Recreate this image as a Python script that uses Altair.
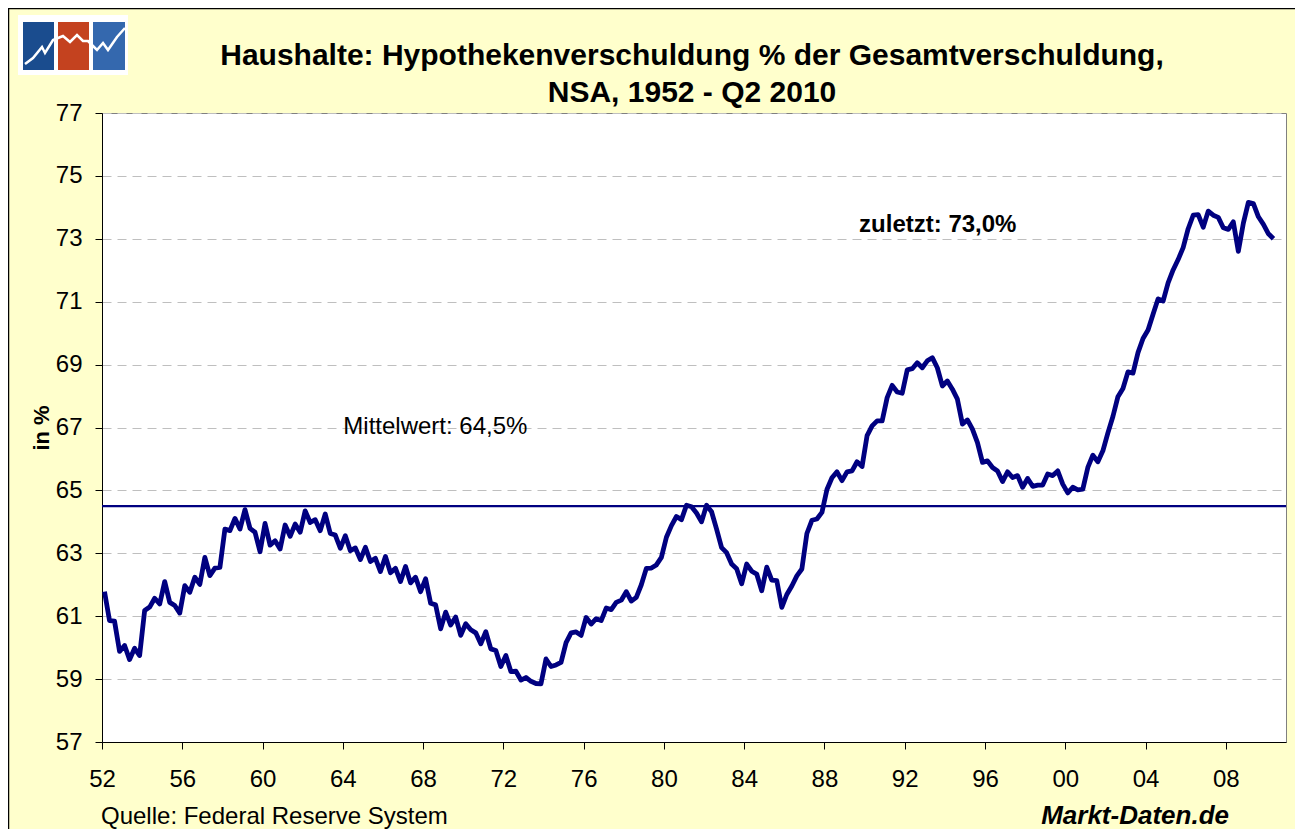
import altair as alt
import pandas as pd

FONT = "Liberation Sans"

# Hypothekenverschuldung in % der Gesamtverschuldung, quarterly 1952Q1 - 2010Q2
share_1952_1961 = [61.78, 60.86, 60.84, 59.88, 60.07, 59.62, 59.98, 59.75, 61.18, 61.29,
                   61.57, 61.39, 62.10, 61.44, 61.34, 61.10, 61.97, 61.76, 62.24, 62.01,
                   62.87, 62.29, 62.53, 62.55, 63.77, 63.72, 64.11, 63.77, 64.39, 63.79,
                   63.67, 63.05, 63.95, 63.26, 63.40, 63.14, 63.90, 63.54, 63.93, 63.67]
share_1962_1971 = [64.35, 63.98, 64.07, 63.72, 64.25, 63.63, 63.58, 63.16, 63.56, 63.08,
                   63.17, 62.80, 63.19, 62.74, 62.84, 62.42, 62.90, 62.38, 62.52, 62.10,
                   62.58, 62.06, 62.24, 61.78, 62.19, 61.41, 61.36, 60.60, 61.13, 60.72,
                   60.97, 60.39, 60.76, 60.57, 60.47, 60.12, 60.51, 59.96, 59.91, 59.40]
share_1972_1981 = [59.75, 59.24, 59.25, 58.97, 59.05, 58.93, 58.86, 58.85, 59.64, 59.40,
                   59.45, 59.53, 60.16, 60.47, 60.50, 60.39, 60.96, 60.75, 60.92, 60.86,
                   61.26, 61.21, 61.44, 61.51, 61.78, 61.48, 61.60, 62.00, 62.52, 62.53,
                   62.63, 62.87, 63.51, 63.88, 64.17, 64.07, 64.53, 64.48, 64.28, 64.00]
share_1982_1991 = [64.53, 64.32, 63.77, 63.18, 63.02, 62.66, 62.51, 62.03, 62.66, 62.43,
                   62.34, 61.81, 62.56, 62.15, 62.13, 61.28, 61.69, 61.96, 62.28, 62.50,
                   63.63, 64.05, 64.09, 64.30, 65.03, 65.40, 65.59, 65.31, 65.59, 65.62,
                   65.91, 65.76, 66.74, 67.05, 67.21, 67.21, 67.95, 68.34, 68.13, 68.09]
share_1992_2001 = [68.83, 68.87, 69.06, 68.90, 69.12, 69.22, 68.90, 68.32, 68.48, 68.22,
                   67.90, 67.11, 67.24, 66.95, 66.52, 65.89, 65.94, 65.73, 65.62, 65.28,
                   65.59, 65.41, 65.47, 65.10, 65.38, 65.13, 65.17, 65.17, 65.52, 65.47,
                   65.62, 65.20, 64.92, 65.10, 65.02, 65.04, 65.73, 66.12, 65.91, 66.26]
share_2002_2010 = [66.83, 67.35, 67.98, 68.24, 68.77, 68.73, 69.38, 69.83, 70.10, 70.60,
                   71.09, 71.02, 71.60, 72.01, 72.34, 72.72, 73.32, 73.75, 73.77, 73.37,
                   73.88, 73.75, 73.68, 73.35, 73.30, 73.54, 72.60, 73.50, 74.16, 74.12,
                   73.70, 73.46, 73.16, 73.00]

share = (share_1952_1961 + share_1962_1971 + share_1972_1981 +
         share_1982_1991 + share_1992_2001 + share_2002_2010)
quarter_time = [1952 + i / 4 for i in range(len(share))]

MEAN = 64.5
y_ticks = list(range(57, 78, 2))
x_tick_years = [1952, 1956, 1960, 1964, 1968, 1972, 1976, 1980, 1984, 1988,
                1992, 1996, 2000, 2004, 2008]

ann_bold_text = ["zuletzt: 73,0%"]
ann_bold_t = [1989.6]
ann_bold_v = [73.45]
ann_text = ["Mittelwert: 64,5%"]
ann_t = [1963.9]
ann_v = [67.03]

title_lines = ["Haushalte: Hypothekenverschuldung % der Gesamtverschuldung,",
               "NSA, 1952 - Q2 2010"]
source_text = "Quelle: Federal Reserve System"
brand_text = "Markt-Daten.de"

# decoration: logo (pixel geometry relative to plot origin)
logo_squares = pd.DataFrame({
    "x": [-84, -79, -44, -9], "x2": [26, -48, -13, 23],
    "y": [-98, -91, -91, -91], "y2": [-38, -43, -43, -43],
    "c": ["#FFFFFF", "#1A4C8E", "#C4421F", "#3468AE"],
})
logo_line = pd.DataFrame({
    "px": [-77, -69, -60, -57, -49, -44, -39, -32, -25, -19, -14, -9, -5, 1, 6, 15, 23],
    "py": [-49, -55, -66, -60, -73, -75, -77, -71, -78, -72, -72, -67, -63, -70, -63, -76, -85],
    "o": list(range(17)),
})

df = pd.DataFrame({"t": quarter_time, "v": share})
x_dom = [x_tick_years[0] - 0.125, x_tick_years[0] - 0.125 + 59]
x_scale = alt.Scale(domain=x_dom, nice=False, zero=False)
y_scale = alt.Scale(domain=[57, 77], nice=False, zero=False)

x_axis = alt.Axis(
    values=[y - 0.125 for y in x_tick_years],
    labelExpr="substring(toString(round(datum.value)), 2, 4)",
    grid=False, tickSize=7, tickColor="black", domainColor="black",
    labelFontSize=24, labelFont=FONT, labelColor="black", labelPadding=18,
    labelFlush=False, labelOverlap=False, title=None,
)
y_axis = alt.Axis(
    values=y_ticks, format="d", grid=True, gridDash=[9, 6], gridColor="#BFBFBF",
    tickSize=7, tickColor="black", domainColor="black",
    labelFontSize=24, labelFont=FONT, labelColor="black", labelPadding=13,
    title="in %", titleFontSize=22, titleFont=FONT, titleFontWeight="bold",
    titleColor="black", titlePadding=2,
)

line = alt.Chart(df).mark_line(color="#000080", strokeWidth=4.8, strokeJoin="round").encode(
    x=alt.X("t:Q", scale=x_scale, axis=x_axis),
    y=alt.Y("v:Q", scale=y_scale, axis=y_axis),
)

mean_rule = alt.Chart(pd.DataFrame({"m": [MEAN]})).mark_rule(
    color="#000080", strokeWidth=2.2).encode(y=alt.Y("m:Q", scale=y_scale))

ann_b = alt.Chart(pd.DataFrame({"t": ann_bold_t, "v": ann_bold_v, "s": ann_bold_text})).mark_text(
    align="left", baseline="middle", font=FONT, fontSize=24, fontWeight="bold", color="black"
).encode(x="t:Q", y="v:Q", text="s:N")

ann_n = alt.Chart(pd.DataFrame({"t": ann_t, "v": ann_v, "s": ann_text})).mark_text(
    align="left", baseline="middle", font=FONT, fontSize=24, color="black"
).encode(x="t:Q", y="v:Q", text="s:N")

title1 = alt.Chart(pd.DataFrame({"s": [title_lines[0]]})).mark_text(
    align="center", baseline="alphabetic", font=FONT, fontSize=30, fontWeight="bold", color="black"
).encode(x=alt.value(590), y=alt.value(-48), text="s:N")
title2 = alt.Chart(pd.DataFrame({"s": [title_lines[1]]})).mark_text(
    align="center", baseline="alphabetic", font=FONT, fontSize=30, fontWeight="bold", color="black"
).encode(x=alt.value(590), y=alt.value(-11), text="s:N")

src = alt.Chart(pd.DataFrame({"s": [source_text]})).mark_text(
    align="left", baseline="alphabetic", font=FONT, fontSize=24, color="black"
).encode(x=alt.value(-1), y=alt.value(711), text="s:N")

brand = alt.Chart(pd.DataFrame({"s": [brand_text]})).mark_text(
    align="right", baseline="alphabetic", font=FONT, fontSize=26, fontWeight="bold",
    fontStyle="italic", color="black"
).encode(x=alt.value(1127), y=alt.value(711), text="s:N")

frame = alt.Chart(pd.DataFrame({"a": [0]})).mark_rect(
    fillOpacity=0, stroke="black", strokeWidth=1.5
).encode(x=alt.value(-93.5), x2=alt.value(1400), y=alt.value(-104.5), y2=alt.value(900))

squares = alt.Chart(logo_squares).mark_rect().encode(
    x=alt.X("x:Q", scale=None), x2="x2:Q",
    y=alt.Y("y:Q", scale=None), y2="y2:Q",
    color=alt.Color("c:N", scale=None),
)
zig = alt.Chart(logo_line).mark_line(color="white", strokeWidth=2.5).encode(
    x=alt.X("px:Q", scale=None), y=alt.Y("py:Q", scale=None), order="o:Q",
)

chart = alt.layer(line, mean_rule, ann_b, ann_n, title1, title2, src, brand,
                  frame, squares, zig).properties(
    width=1184, height=629,
    autosize=alt.AutoSizeParams(type="none"),
    padding={"left": 94, "top": 105, "right": 9, "bottom": 87},
    background="#FFFFCC",
).configure_view(fill="white", stroke="#808080", strokeWidth=1)

chart.save("out.html", embed_options={"renderer": "svg", "actions": False})
